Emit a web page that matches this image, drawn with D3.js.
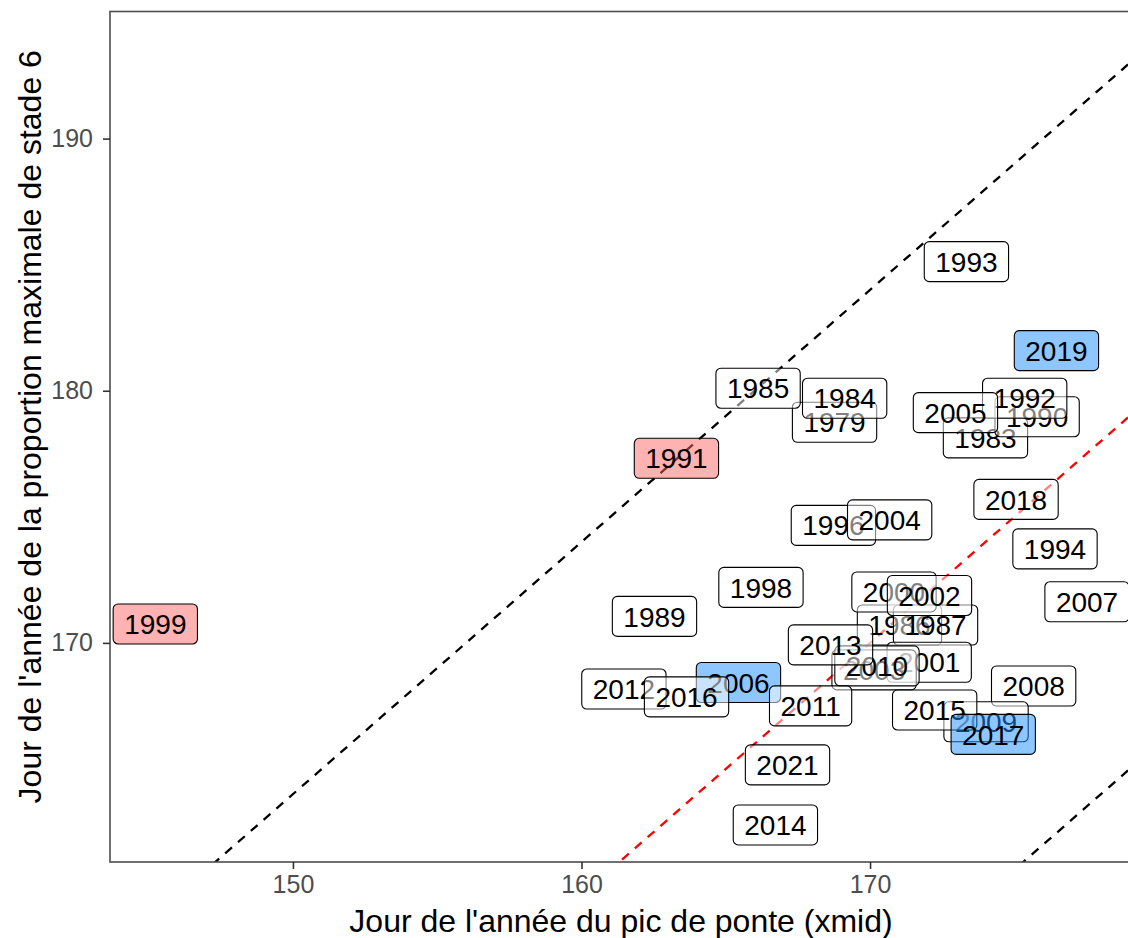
<!DOCTYPE html>
<html><head><meta charset="utf-8">
<script src="https://cdn.jsdelivr.net/npm/d3@7"></script>
<style>body{margin:0;background:#fff} svg{display:block}</style>
</head><body><svg id="c" width="1128" height="938"></svg>
<script>
// ---- data ----
const years  = [1979,1983,1984,1985,1986,1987,1989,1990,1991,1992,1993,1994,1996,1998,1999,2000,2001,2002,2003,2004,2005,2006,2007,2008,2009,2010,2011,2012,2013,2014,2015,2016,2017,2018,2019,2021];
const xmid   = [168.77,174.00,169.12,166.12,171.02,172.27,162.53,175.79,163.29,175.36,173.34,176.41,168.73,166.22,145.23,170.83,172.05,172.06,170.14,170.68,172.96,165.44,177.52,175.67,174.02,170.24,167.94,161.47,168.63,166.72,172.24,163.64,174.27,175.06,176.46,167.14];
const ystade = [178.75,178.13,179.70,180.10,170.71,170.71,171.05,178.97,177.32,179.70,185.12,173.73,174.66,172.20,170.75,172.02,169.23,171.88,168.93,174.88,179.13,168.43,171.63,168.29,166.87,169.09,167.50,168.17,169.92,162.78,167.34,167.86,166.37,175.69,181.59,165.16];
const groupe = ["n","n","n","n","n","n","n","n","r","n","n","n","n","n","r","n","n","n","n","n","n","b","n","n","n","n","n","n","n","n","n","n","b","n","b","n"];
const xTicks = [150,160,170];
const yTicks = [170,180,190];
const refIntercepts = [14,0,-14];
const refColors = ["#000000","#FF0000","#000000"];
const groupKeys = ["n","r","b"];
const groupFills = ["#FFFFFF","#FF6666","#1E90FF"];
const xDomain = [143.66,178.94];
const yDomain = [161.31,195.04];
const xTitle = "Jour de l'année du pic de ponte (xmid)";
const yTitle = "Jour de l'année de la proportion maximale de stade 6";

// ---- layout ----
const svg = d3.select("#c");
const L = 110, R = 1128, T = 11.5, B = 862;
const x = d3.scaleLinear().domain(xDomain).range([L, R]);
const y = d3.scaleLinear().domain(yDomain).range([B, T]);
const fill = d3.scaleOrdinal().domain(groupKeys).range(groupFills);
const font = "'Liberation Sans', Arial, Helvetica, sans-serif";

svg.append("defs").append("clipPath").attr("id","pc")
  .append("rect").attr("x",L).attr("y",T).attr("width",R-L+20).attr("height",B-T);

const panel = svg.append("g").attr("clip-path","url(#pc)");

// reference lines y = x + k
refIntercepts.forEach((k,i)=>{
  panel.append("line")
    .attr("x1",x(xDomain[0])).attr("y1",y(xDomain[0]+k))
    .attr("x2",x(xDomain[1])).attr("y2",y(xDomain[1]+k))
    .attr("stroke",refColors[i]).attr("stroke-width",2.3)
    .attr("stroke-dasharray","9,8");
});

// labels
const data = years.map((yr,i)=>({yr, x:xmid[i], y:ystade[i], g:groupe[i]}));
const lab = panel.selectAll("g.lab").data(data).join("g").attr("class","lab")
  .attr("transform",d=>`translate(${x(d.x)},${y(d.y)})`);
lab.each(function(d){
  const g = d3.select(this);
  const rect = g.append("rect");
  const t = g.append("text").text(d.yr)
    .attr("text-anchor","middle").attr("dy","0.36em")
    .attr("font-family",font).attr("font-size",28).attr("fill","#000");
  const w = t.node().getComputedTextLength() + 22;
  const h = 40;
  rect.attr("x",-w/2).attr("y",-h/2).attr("width",w).attr("height",h)
    .attr("rx",5).attr("ry",5)
    .attr("fill",fill(d.g)).attr("fill-opacity",0.5)
    .attr("stroke","#000").attr("stroke-width",1.1);
});

// panel border
svg.append("rect").attr("x",L).attr("y",T).attr("width",R-L+20).attr("height",B-T)
  .attr("fill","none").attr("stroke","#4D4D4D").attr("stroke-width",1.6);

// axes
const xAxis = svg.append("g").attr("transform",`translate(0,${B})`)
  .call(d3.axisBottom(x).tickValues(xTicks).tickSize(7).tickPadding(6));
const yAxis = svg.append("g").attr("transform",`translate(${L},0)`)
  .call(d3.axisLeft(y).tickValues(yTicks).tickSize(7).tickPadding(10));
[xAxis,yAxis].forEach(a=>{
  a.select(".domain").remove();
  a.selectAll(".tick line").attr("stroke","#333333").attr("stroke-width",1.6);
  a.selectAll(".tick text").attr("fill","#4D4D4D").attr("font-size",25).attr("font-family",font);
});

svg.append("text").attr("x",(L+R)/2+2).attr("y",932)
  .attr("text-anchor","middle").attr("font-family",font).attr("font-size",32)
  .attr("fill","#000").text(xTitle);
svg.append("text").attr("transform",`translate(41,${(T+B)/2-10}) rotate(-90)`)
  .attr("text-anchor","middle").attr("font-family",font).attr("font-size",32)
  .attr("fill","#000").text(yTitle);
</script></body></html>
